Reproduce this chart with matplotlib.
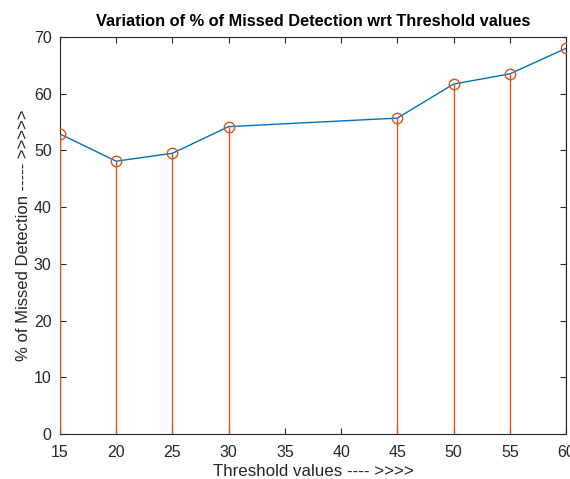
import matplotlib
matplotlib.use("Agg")
import matplotlib.pyplot as plt
import numpy as np

plt.rcParams['font.family'] = ['Liberation Sans', 'DejaVu Sans']

threshold = np.array([15, 20, 25, 30, 45, 50, 55, 60])
missed = np.array([52.9, 48.1, 49.5, 54.2, 55.7, 61.7, 63.5, 68.0])

fig = plt.figure(figsize=(5.70, 4.79), dpi=100)
ax = fig.add_axes([60/570, 45/479, 506/570, 397/479])

ax.plot(threshold, missed, color='#0072BD', lw=1.0, zorder=2)
ax.vlines(threshold, 0, missed, color='#D95319', lw=1.0, zorder=3)
ax.plot(threshold, missed, 'o', mfc='none', mec='#D95319', ms=7.5, mew=1.0, zorder=4)

ax.set_xlim(15, 60)
ax.set_ylim(0, 70)
ax.set_xticks(np.arange(15, 61, 5))
ax.set_yticks(np.arange(0, 71, 10))
ax.tick_params(direction='in', top=True, right=True, labelsize=11.5, colors='#262626', length=4)
ax.tick_params(axis='x', pad=8)
ax.tick_params(axis='y', pad=6)
for s in ax.spines.values():
    s.set_color('#262626')
    s.set_linewidth(0.8)

ax.set_title("Variation of % of Missed Detection wrt Threshold values", fontsize=11.8, fontweight='bold', pad=8)
ax.set_xlabel("Threshold values ---- >>>>", fontsize=12.2, color='#262626', labelpad=3)
ax.set_ylabel("% of Missed Detection ----- >>>>>", fontsize=12, color='#262626', labelpad=2)

fig.savefig("out.png", dpi=100)
